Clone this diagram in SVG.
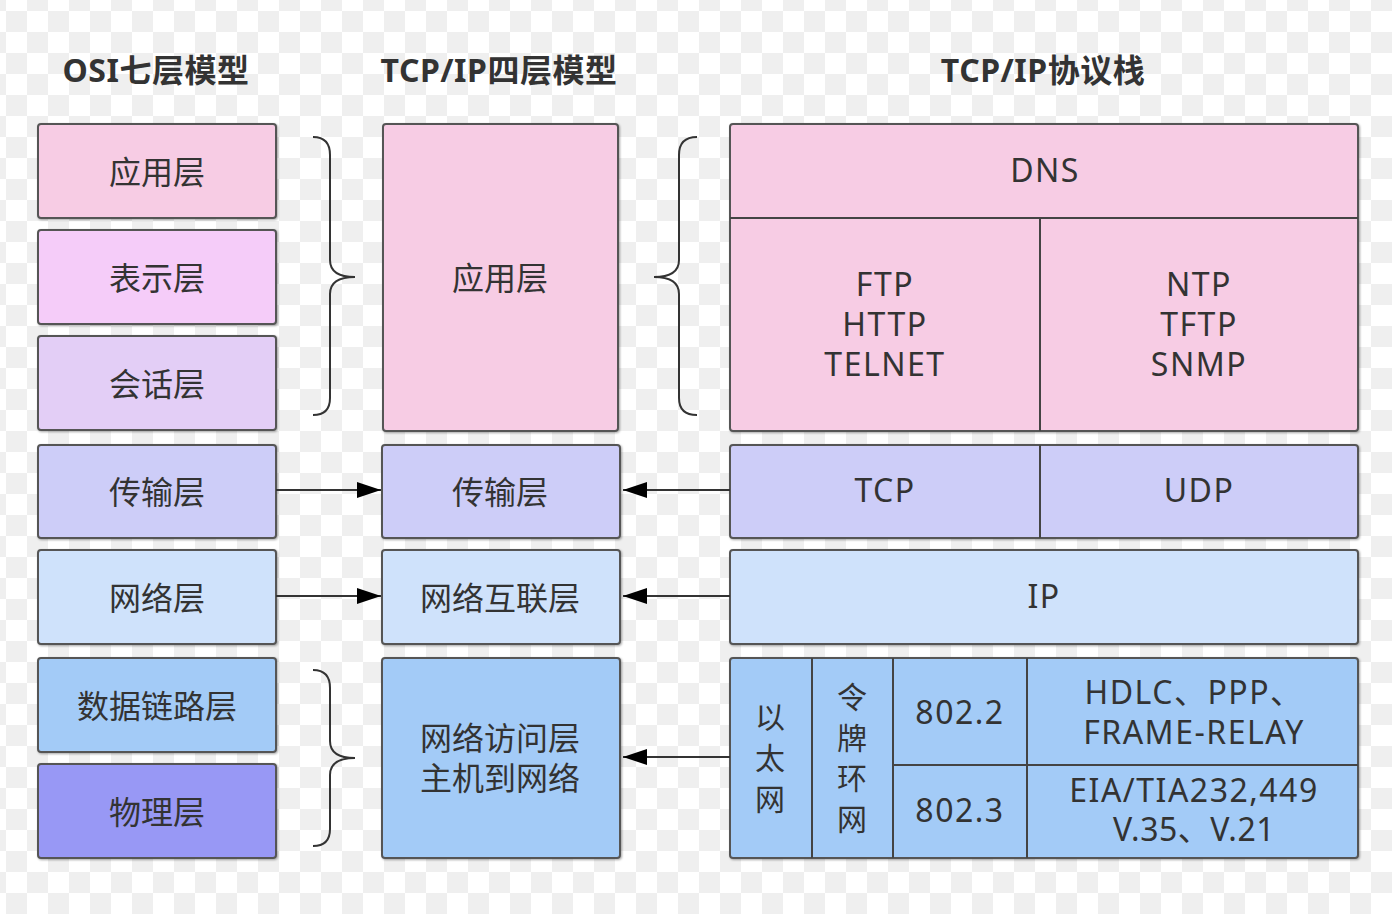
<svg xmlns="http://www.w3.org/2000/svg" width="1392" height="914" viewBox="0 0 1392 914">
<defs>
<pattern id="chk" patternUnits="userSpaceOnUse" x="6" y="11" width="42" height="42">
<rect width="42" height="42" fill="#ffffff"/>
<rect width="21" height="21" fill="#efefef"/>
<rect x="21" y="21" width="21" height="21" fill="#efefef"/>
</pattern>
<marker id="ah" viewBox="0 0 24 16" refX="24" refY="8" markerWidth="24" markerHeight="16" markerUnits="userSpaceOnUse" orient="auto">
<path d="M0,0 L24,8 L0,16 Z" fill="#000"/>
</marker>
<filter id="sh" x="-5%" y="-5%" width="110%" height="110%">
<feDropShadow dx="1" dy="1" stdDeviation="0.8" flood-color="#000" flood-opacity="0.35"/>
</filter>
</defs>
<style>
.box{stroke:#555;stroke-width:2;filter:url(#sh)}
.div{stroke:#444;stroke-width:2;fill:none}
.t{font-family:"Noto Sans","Noto Sans CJK SC",sans-serif;font-size:32px;letter-spacing:1.5px;fill:#333;text-anchor:middle;dominant-baseline:central}
.c{font-family:"Noto Sans CJK SC",sans-serif;font-size:32px;fill:#333;text-anchor:middle;dominant-baseline:central}
.v{font-family:"Noto Sans CJK SC",sans-serif;font-size:30px;fill:#333;text-anchor:middle;dominant-baseline:central}
.h{font-family:"Noto Sans","Noto Sans CJK SC",sans-serif;font-size:32px;letter-spacing:0.5px;font-weight:bold;fill:#333;text-anchor:middle;dominant-baseline:central}
.br{stroke:#333;stroke-width:2;fill:none}
.cn{stroke:#333;stroke-width:2;fill:none}
</style>
<rect width="1392" height="914" fill="url(#chk)"/>

<g id="titles">
<text class="h" x="156" y="69">OSI七层模型</text>
<text class="h" x="499" y="69">TCP/IP四层模型</text>
<text class="h" x="1043" y="69">TCP/IP协议栈</text>
</g>

<g id="osi-app"><rect class="box" x="38" y="124" width="238" height="94" rx="3" fill="#f7cce4"/><text class="c" x="157" y="170">应用层</text></g>
<g id="osi-pres"><rect class="box" x="38" y="230" width="238" height="94" rx="3" fill="#f5ccf9"/><text class="c" x="157" y="276">表示层</text></g>
<g id="osi-sess"><rect class="box" x="38" y="336" width="238" height="94" rx="3" fill="#e3cef6"/><text class="c" x="157" y="382">会话层</text></g>
<g id="osi-trans"><rect class="box" x="38" y="445" width="238" height="93" rx="3" fill="#cdcdf8"/><text class="c" x="157" y="490">传输层</text></g>
<g id="osi-net"><rect class="box" x="38" y="550" width="238" height="94" rx="3" fill="#cfe2fb"/><text class="c" x="157" y="596">网络层</text></g>
<g id="osi-link"><rect class="box" x="38" y="658" width="238" height="94" rx="3" fill="#a3cbf7"/><text class="c" x="157" y="704">数据链路层</text></g>
<g id="osi-phy"><rect class="box" x="38" y="764" width="238" height="94" rx="3" fill="#9898f5"/><text class="c" x="157" y="810">物理层</text></g>

<g id="tcp-app"><rect class="box" x="383" y="124" width="235" height="307" rx="3" fill="#f7cce4"/><text class="c" x="500" y="276">应用层</text></g>
<g id="tcp-trans"><rect class="box" x="382" y="445" width="238" height="93" rx="3" fill="#cdcdf8"/><text class="c" x="500" y="490">传输层</text></g>
<g id="tcp-net"><rect class="box" x="382" y="550" width="238" height="94" rx="3" fill="#cfe2fb"/><text class="c" x="500" y="596">网络互联层</text></g>
<g id="tcp-access"><rect class="box" x="382" y="658" width="238" height="200" rx="3" fill="#a3cbf7"/><text class="c" x="500" y="736">网络访问层<tspan x="500" dy="40">主机到网络</tspan></text></g>

<g id="stack-app">
<rect class="box" x="730" y="124" width="628" height="307" rx="3" fill="#f7cce4"/>
<line class="div" x1="730" y1="218" x2="1358" y2="218"/>
<line class="div" x1="1040" y1="218" x2="1040" y2="431"/>
<text class="t" x="1045" y="169">DNS</text>
<text class="t" x="885" y="283">FTP<tspan x="885" dy="40">HTTP</tspan><tspan x="885" dy="40">TELNET</tspan></text>
<text class="t" x="1199" y="283">NTP<tspan x="1199" dy="40">TFTP</tspan><tspan x="1199" dy="40">SNMP</tspan></text>
</g>
<g id="stack-trans">
<rect class="box" x="730" y="445" width="628" height="93" rx="3" fill="#cdcdf8"/>
<line class="div" x1="1040" y1="445" x2="1040" y2="538"/>
<text class="t" x="885" y="489">TCP</text>
<text class="t" x="1199" y="489">UDP</text>
</g>
<g id="stack-ip">
<rect class="box" x="730" y="550" width="628" height="94" rx="3" fill="#cfe2fb"/>
<text class="t" x="1044" y="595">IP</text>
</g>
<g id="stack-link">
<rect class="box" x="730" y="658" width="628" height="200" rx="3" fill="#a3cbf7"/>
<line class="div" x1="812" y1="658" x2="812" y2="858"/>
<line class="div" x1="893" y1="658" x2="893" y2="858"/>
<line class="div" x1="1027" y1="658" x2="1027" y2="858"/>
<line class="div" x1="893" y1="765" x2="1358" y2="765"/>
<text class="v" x="770" y="715">以<tspan x="770" dy="41">太</tspan><tspan x="770" dy="41">网</tspan></text>
<text class="v" x="852" y="695">令<tspan x="852" dy="41">牌</tspan><tspan x="852" dy="40">环</tspan><tspan x="852" dy="41">网</tspan></text>
<text class="t" x="960" y="711" letter-spacing="0">802.2</text>
<text class="t" x="960" y="809" letter-spacing="0">802.3</text>
<text class="t" x="1194" y="691">HDLC、PPP、<tspan x="1194" dy="40">FRAME-RELAY</tspan></text>
<text class="t" x="1194" y="789">EIA/TIA232,449<tspan x="1194" dy="39" letter-spacing="0.5">V.35、V.21</tspan></text>
</g>

<g id="connectors">
<path class="br" d="M313,137 Q330,137 330,155 L330,260 Q330,277 355,277 Q330,277 330,294 L330,398 Q330,415 313,415"/>
<path class="br" d="M697,137 Q679,137 679,155 L679,260 Q679,277 654,277 Q679,277 679,294 L679,398 Q679,415 697,415"/>
<path class="br" d="M313,670 Q330,670 330,688 L330,741 Q330,758 355,758 Q330,758 330,775 L330,829 Q330,846 313,846"/>
<line class="cn" x1="276" y1="490" x2="381" y2="490" marker-end="url(#ah)"/>
<line class="cn" x1="276" y1="596" x2="381" y2="596" marker-end="url(#ah)"/>
<line class="cn" x1="730" y1="490" x2="623" y2="490" marker-end="url(#ah)"/>
<line class="cn" x1="730" y1="596" x2="623" y2="596" marker-end="url(#ah)"/>
<line class="cn" x1="730" y1="757" x2="623" y2="757" marker-end="url(#ah)"/>
</g>
</svg>
